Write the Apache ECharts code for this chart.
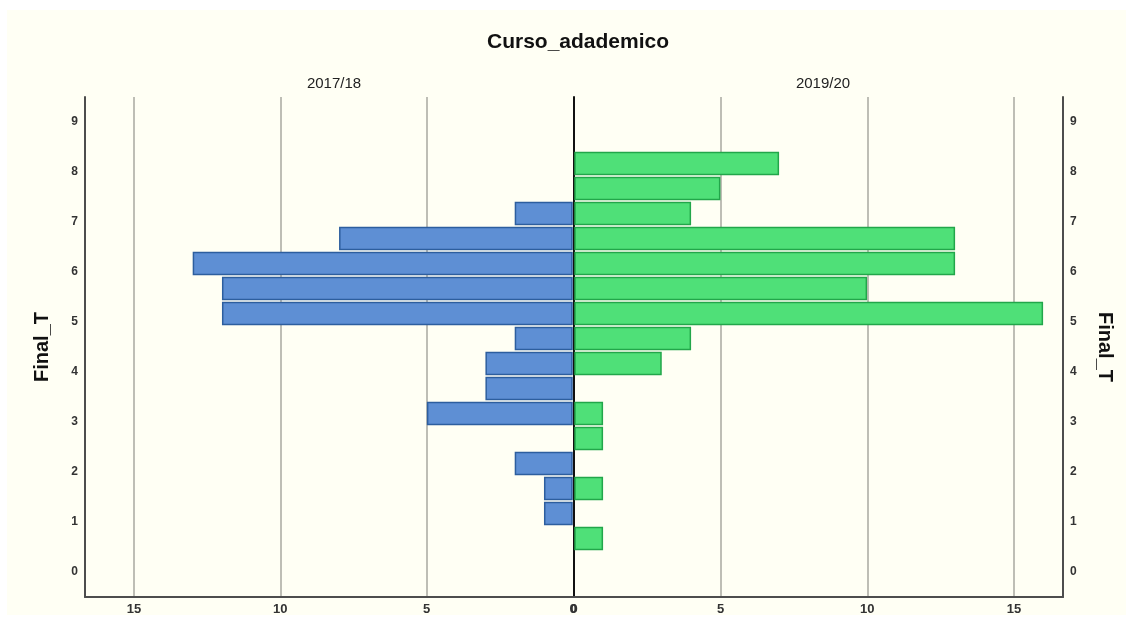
<!DOCTYPE html>
<html>
<head>
<meta charset="utf-8">
<script src="https://cdn.jsdelivr.net/npm/echarts@6/dist/echarts.min.js"></script>
<style>
  html, body { margin: 0; padding: 0; background: #ffffff; }
  #chart { width: 1133px; height: 620px; }
</style>
</head>
<body>
<div id="chart"></div>
<script>
// bins of Final_T (lower edge), width 0.5
const binLow = [0.42, 0.92, 1.42, 1.92, 2.42, 2.92, 3.42, 3.92, 4.42, 4.92, 5.42, 5.92, 6.42, 6.92, 7.42, 7.92];
const binHigh = [0.92, 1.42, 1.92, 2.42, 2.92, 3.42, 3.92, 4.42, 4.92, 5.42, 5.92, 6.42, 6.92, 7.42, 7.92, 8.42];
const count2017 = [0, 1, 1, 2, 0, 5, 3, 3, 2, 12, 12, 13, 8, 2, 0, 0];
const count2019 = [1, 0, 1, 0, 1, 1, 0, 3, 4, 16, 10, 13, 13, 4, 5, 7];
const groups = ["2017/18", "2019/20"];

const FONT = "Liberation Sans Narrow, Liberation Sans, Arial, sans-serif";

function toData(counts) {
  return counts.map((c, i) => [c, binLow[i], binHigh[i]]);
}

// horizontal histogram bar drawn through the axis scales
function makeRender(fill, stroke) {
  return function (params, api) {
    const c = api.value(0);
    if (!c) return null;
    const a = api.coord([0, api.value(2)]);
    const b = api.coord([c, api.value(1)]);
    const x = Math.min(a[0], b[0]);
    const w = Math.abs(b[0] - a[0]);
    return {
      type: "rect",
      shape: { x: x + 1, y: a[1] + 1.5, width: w - 2, height: b[1] - a[1] - 3 },
      style: { fill: fill, stroke: stroke, lineWidth: 1.5 }
    };
  };
}

const chart = echarts.init(document.getElementById("chart"));

const xCommon = {
  type: "value",
  min: 0,
  max: 16.67,
  interval: 5,
  axisLine: { show: true, onZero: false, lineStyle: { color: "#4d4d4d", width: 2 } },
  axisTick: { show: false },
  axisLabel: {
    color: "#333", fontWeight: "bold", fontSize: 13, fontFamily: FONT, margin: 6,
    formatter: v => (v % 5 === 0 ? String(v) : "")
  },
  splitLine: { show: true, showMinLine: false, showMaxLine: false, lineStyle: { color: "#a9a8a0", width: 1.5 } }
};

const yCommon = {
  type: "value",
  min: -0.5,
  max: 9.5,
  interval: 0.5,
  axisTick: { show: false },
  splitLine: { show: false },
  axisLine: { show: true, onZero: false, lineStyle: { color: "#4d4d4d", width: 2 } },
  axisLabel: {
    color: "#333", fontWeight: "bold", fontSize: 12, fontFamily: FONT, margin: 7,
    formatter: v => (Number.isInteger(v) ? String(v) : "")
  },
  nameLocation: "middle",
  nameTextStyle: { fontSize: 20, fontWeight: "bold", color: "#111", fontFamily: FONT }
};

chart.setOption({
  animation: false,
  backgroundColor: "#ffffff",
  graphic: [{
    type: "rect", z: -10,
    shape: { x: 7, y: 10, width: 1119, height: 605 },
    style: { fill: "#fffff4" }
  }],
  title: [
    { text: "Curso_adademico", left: 573, top: 27, textAlign: "center",
      textStyle: { fontSize: 21, fontWeight: "bold", color: "#111", fontFamily: FONT } },
    { text: groups[0], left: 329, top: 71, textAlign: "center",
      textStyle: { fontSize: 15, fontWeight: "normal", color: "#222", fontFamily: FONT } },
    { text: groups[1], left: 818, top: 71, textAlign: "center",
      textStyle: { fontSize: 15, fontWeight: "normal", color: "#222", fontFamily: FONT } }
  ],
  grid: [
    { left: 85, right: 560, top: 97, bottom: 23 },
    { left: 574, right: 70, top: 97, bottom: 23 }
  ],
  xAxis: [
    Object.assign({}, xCommon, { gridIndex: 0, inverse: true }),
    Object.assign({}, xCommon, { gridIndex: 1 })
  ],
  yAxis: [
    Object.assign({}, yCommon, { gridIndex: 0, position: "left", name: "Final_T", nameRotate: 90, nameGap: 33 }),
    Object.assign({}, yCommon, { gridIndex: 1, position: "right", name: "Final_T", nameRotate: -90, nameGap: 32 }),
    { type: "value", gridIndex: 1, position: "left", min: -0.5, max: 9.5,
      axisLine: { show: true, onZero: false, lineStyle: { color: "#111", width: 2 } },
      axisTick: { show: false }, axisLabel: { show: false }, splitLine: { show: false } }
  ],
  series: [
    {
      name: groups[0], type: "custom", xAxisIndex: 0, yAxisIndex: 0,
      encode: { x: 0, y: [1, 2] },
      renderItem: makeRender("#5e8fd4", "#2d5e9e"),
      data: toData(count2017)
    },
    {
      name: groups[1], type: "custom", xAxisIndex: 1, yAxisIndex: 1,
      encode: { x: 0, y: [1, 2] },
      renderItem: makeRender("#4fe078", "#22a64a"),
      data: toData(count2019)
    }
  ]
});
</script>
</body>
</html>
